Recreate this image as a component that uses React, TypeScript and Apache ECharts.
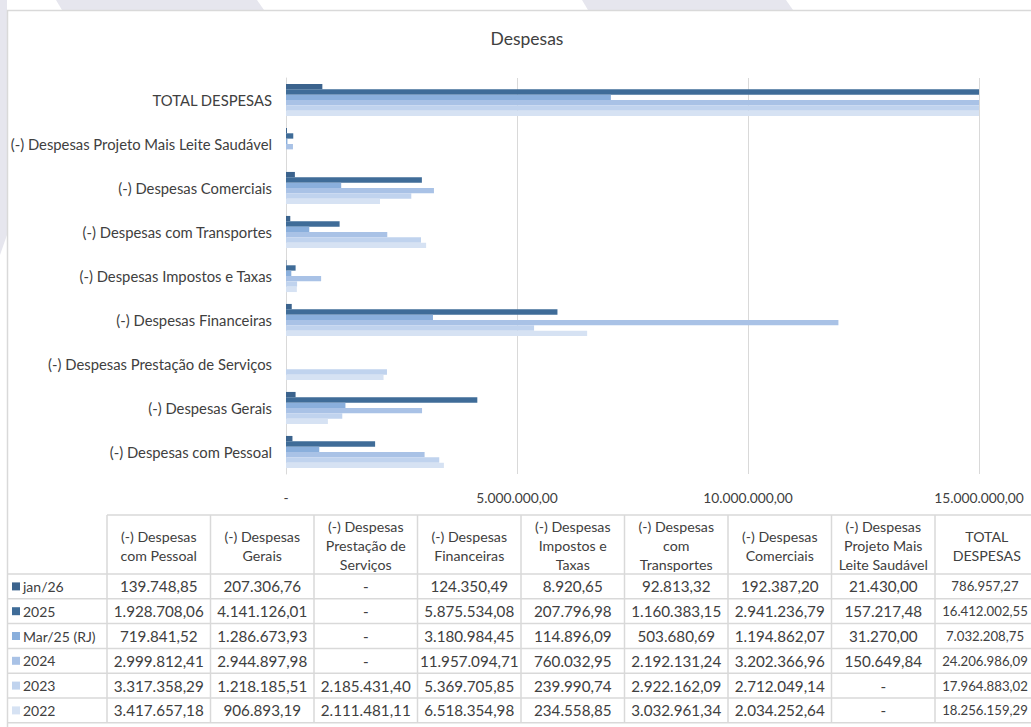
import React, { useEffect, useRef } from "react";
import * as echarts from "echarts";

const FONT = "Lato, 'Noto Sans', sans-serif";

const categories = [
  "(-) Despesas com Pessoal",
  "(-) Despesas Gerais",
  "(-) Despesas Prestação de Serviços",
  "(-) Despesas Financeiras",
  "(-) Despesas Impostos e Taxas",
  "(-) Despesas com Transportes",
  "(-) Despesas Comerciais",
  "(-) Despesas Projeto Mais Leite Saudável",
  "TOTAL DESPESAS",
];

const tableHeaders = [
  "(-) Despesas\ncom Pessoal",
  "(-) Despesas\nGerais",
  "(-) Despesas\nPrestação de\nServiços",
  "(-) Despesas\nFinanceiras",
  "(-) Despesas\nImpostos e\nTaxas",
  "(-) Despesas\ncom\nTransportes",
  "(-) Despesas\nComerciais",
  "(-) Despesas\nProjeto Mais\nLeite Saudável",
  "TOTAL\nDESPESAS",
];

const seriesNames = ["jan/26", "2025", "Mar/25 (RJ)", "2024", "2023", "2022"];
const seriesColors = ["#3B638D", "#3F6C98", "#8AAFDC", "#A9C2E6", "#C0D3EE", "#D6E2F3"];

const jan26 = [139748.85, 207306.76, null, 124350.49, 8920.65, 92813.32, 192387.2, 21430.0, 786957.27];
const y2025 = [1928708.06, 4141126.01, null, 5875534.08, 207796.98, 1160383.15, 2941236.79, 157217.48, 16412002.55];
const mar25 = [719841.52, 1286673.93, null, 3180984.45, 114896.09, 503680.69, 1194862.07, 31270.0, 7032208.75];
const y2024 = [2999812.41, 2944897.98, null, 11957094.71, 760032.95, 2192131.24, 3202366.96, 150649.84, 24206986.09];
const y2023 = [3317358.29, 1218185.51, 2185431.4, 5369705.85, 239990.74, 2922162.09, 2712049.14, null, 17964883.02];
const y2022 = [3417657.18, 906893.19, 2111481.11, 6518354.98, 234558.85, 3032961.34, 2034252.64, null, 18256159.29];

const seriesData = [jan26, y2025, mar25, y2024, y2023, y2022];

const xTicks = [0, 5000000, 10000000, 15000000];

function fmt(v: number | null): string {
  if (v === null || v === undefined) return "-";
  if (v === 0) return "-";
  const [i, d] = v.toFixed(2).split(".");
  return i.replace(/\B(?=(\d{3})+(?!\d))/g, ".") + "," + d;
}

const TEXT = "#404040";
const LINE = "#D9D9D9";

function buildGraphics(): any[] {
  const g: any[] = [];
  // background watermark shapes outside the chart
  g.push({ type: "polygon", z: -10, shape: { points: [[56, 0], [257, 0], [264, 10], [62, 10]] }, style: { fill: "#E6E6EE" }, silent: true });
  g.push({ type: "polygon", z: -10, shape: { points: [[582, 0], [786, 0], [793, 10], [588, 10]] }, style: { fill: "#E6E6EE" }, silent: true });
  g.push({ type: "polygon", z: -10, shape: { points: [[0, 0], [7, 0], [7, 235], [0, 255]] }, style: { fill: "#E6E6EE" }, silent: true });
  // chart area
  g.push({ type: "rect", z: -9, shape: { x: 7.5, y: 10.5, width: 1040, height: 740 }, style: { fill: "#FFFFFF", stroke: LINE, lineWidth: 1.5 }, silent: true });

  // table
  const x0 = 107;
  const colW = 103.5;
  const nCols = tableHeaders.length;
  const xEnd = x0 + colW * nCols;
  const headTop = 515;
  const headBottom = 574;
  const rowH = 24.8;
  const nRows = seriesNames.length;
  const tableBottom = headBottom + rowH * nRows;

  g.push({ type: "line", shape: { x1: x0, y1: headTop, x2: xEnd, y2: headTop }, style: { stroke: LINE, lineWidth: 1.5 }, silent: true });
  for (let r = 0; r <= nRows; r++) {
    const y = headBottom + r * rowH;
    g.push({ type: "line", shape: { x1: 7, y1: y, x2: xEnd, y2: y }, style: { stroke: LINE, lineWidth: 1.5 }, silent: true });
  }
  for (let c = 0; c <= nCols; c++) {
    const x = x0 + c * colW;
    g.push({ type: "line", shape: { x1: x, y1: headTop, x2: x, y2: tableBottom }, style: { stroke: LINE, lineWidth: 1.5 }, silent: true });
  }
  tableHeaders.forEach((h, c) => {
    g.push({
      type: "text",
      x: x0 + c * colW + colW / 2,
      y: (headTop + headBottom) / 2 + 1,
      style: { text: h, fill: TEXT, font: `14.2px ${FONT}`, align: "center", verticalAlign: "middle", lineHeight: 19 },
      silent: true,
    });
  });
  seriesNames.forEach((name, r) => {
    const yc = headBottom + r * rowH + rowH / 2;
    g.push({ type: "rect", shape: { x: 12, y: yc - 4, width: 8, height: 8 }, style: { fill: seriesColors[r] }, silent: true });
    g.push({ type: "text", x: 23, y: yc, style: { text: name, fill: TEXT, font: `14px ${FONT}`, align: "left", verticalAlign: "middle" }, silent: true });
    seriesData[r].forEach((v, c) => {
      const last = c === nCols - 1;
      g.push({
        type: "text",
        x: last ? 985 : x0 + c * colW + colW / 2,
        y: yc,
        style: { text: fmt(v), fill: TEXT, font: `${last ? 13.2 : 15.2}px ${FONT}`, align: "center", verticalAlign: "middle" },
        silent: true,
      });
    });
  });
  return g;
}

export default function App() {
  const ref = useRef<HTMLDivElement>(null);
  useEffect(() => {
    if (!ref.current) return;
    const chart = echarts.init(ref.current, null, { renderer: "svg" });
    const series = seriesNames.map((name, i) => ({
      name,
      type: "bar",
      data: seriesData[i],
      itemStyle: { color: seriesColors[i] },
      barGap: "0%",
      barCategoryGap: "27%",
      clip: true,
    }));
    chart.setOption({
      animation: false,
      textStyle: { fontFamily: FONT },
      title: {
        text: "Despesas",
        left: 522,
        textAlign: "center",
        top: 24,
        textStyle: { fontSize: 17.5, fontWeight: "normal", color: TEXT, fontFamily: FONT },
      },
      grid: { left: 286, right: 52, top: 78, height: 396, containLabel: false },
      xAxis: {
        type: "value",
        min: xTicks[0],
        max: xTicks[xTicks.length - 1],
        interval: xTicks[1] - xTicks[0],
        axisLine: { show: false },
        axisTick: { show: false },
        splitLine: { show: true, lineStyle: { color: LINE, width: 1 } },
        axisLabel: { color: TEXT, fontSize: 13.8, fontFamily: FONT, margin: 16, formatter: (v: number) => fmt(v) },
      },
      yAxis: {
        type: "category",
        data: categories,
        axisLine: { show: true, lineStyle: { color: LINE, width: 1 } },
        axisTick: { show: false },
        axisLabel: { color: TEXT, fontSize: 14.8, fontFamily: FONT, margin: 14 },
      },
      series,
      graphic: buildGraphics(),
    });
    return () => chart.dispose();
  }, []);
  return <div ref={ref} style={{ position: "absolute", left: 0, top: 0, width: 1031, height: 727 }} />;
}
